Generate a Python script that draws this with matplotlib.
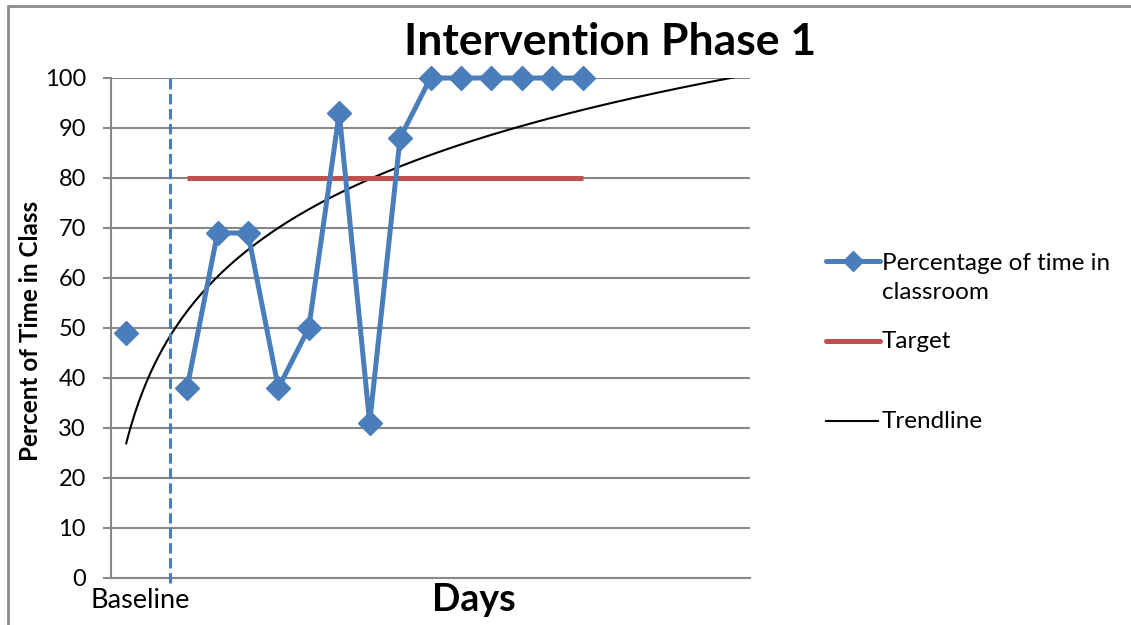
import numpy as np
import matplotlib.pyplot as plt
from matplotlib.lines import Line2D
from matplotlib.patches import Rectangle
import matplotlib.transforms as mtransforms

plt.rcParams['font.family'] = ['Lato', 'DejaVu Sans']

# day 1 = baseline, day 2 empty, days 3-16 intervention
days = list(range(1, 17))
pct_time = [49, np.nan, 38, 69, 69, 38, 50, 93, 31, 88, 100, 100, 100, 100, 100, 100]
target_days = list(range(3, 17))
target = [80] * len(target_days)
n_categories = 21
y_ticks = [0, 10, 20, 30, 40, 50, 60, 70, 80, 90, 100]

BLUE = '#4A7EBB'
RED = '#C0504D'
GRID = '#878787'

W, H = 1131, 625


def fx(px):
    return px / W


def fy(py):
    return 1 - py / H


def main():
    fig = plt.figure(figsize=(W / 100, H / 100), dpi=100)
    ax = fig.add_axes([fx(111), fy(578), fx(750) - fx(111), fy(78) - fy(578)])

    # excel-style logarithmic trendline, forecast to the last category
    d = np.array(days, dtype=float)
    p = np.array(pct_time, dtype=float)
    ok = ~np.isnan(p)
    a, b = np.polyfit(np.log(d[ok]), p[ok], 1)
    tx = np.linspace(1, n_categories, 300)
    ax.plot(tx, a * np.log(tx) + b, color='black', lw=1.5, zorder=3)

    ax.plot(target_days, target, color=RED, lw=3.6, solid_capstyle='butt', zorder=4)
    ax.plot(days, pct_time, color=BLUE, lw=3.6, marker='D', markersize=12,
            clip_on=False, zorder=5)

    # phase change line
    ax.axvline(2.44, ymin=-0.01, ymax=1.006, color=BLUE, lw=2.2, ls=(0, (3.4, 1.5)),
               clip_on=False, zorder=6)

    ax.set_xlim(0.5, n_categories + 0.5)
    ax.set_ylim(0, 100)
    ax.set_yticks(y_ticks)
    ax.set_xticks([])
    ax.grid(axis='y', color=GRID, lw=1.5)
    ax.set_axisbelow(True)
    for s in ['top', 'right']:
        ax.spines[s].set_visible(False)
    for s in ['left', 'bottom']:
        ax.spines[s].set_color(GRID)
        ax.spines[s].set_linewidth(1.5)
    ax.tick_params(axis='y', length=6, width=1.5, color=GRID, pad=12,
                   labelsize=17)

    trans = mtransforms.blended_transform_factory(ax.transData, ax.transAxes)
    ax.text(1.45, -0.02, "Baseline", transform=trans, ha='center', va='top',
            fontsize=19.5)
    ax.text(12.43, -0.01, "Days", transform=trans, ha='center', va='top',
            fontsize=27, fontweight='bold')

    fig.text(fx(610), fy(42), "Intervention Phase 1", ha='center', va='center',
             fontsize=32, fontweight='bold')
    fig.text(fx(31), fy(331), "Percent of Time in Class", rotation=90,
             ha='center', va='center', fontsize=17.5, fontweight='bold')

    # legend drawn by hand
    fig.add_artist(Line2D([fx(826), fx(880)], [fy(261), fy(261)], color=BLUE,
                          lw=3.6, solid_capstyle='round'))
    fig.add_artist(Line2D([fx(853)], [fy(261)], color=BLUE, marker='D',
                          markersize=10))
    fig.add_artist(Line2D([fx(826), fx(880)], [fy(341), fy(341)], color=RED,
                          lw=3.6, solid_capstyle='round'))
    fig.add_artist(Line2D([fx(826), fx(878)], [fy(421), fy(421)],
                          color='black', lw=1.5))
    fig.text(fx(882), fy(278), "Percentage of time in\nclassroom", ha='left',
             va='center', fontsize=17.5, linespacing=1.5)
    fig.text(fx(882), fy(341), "Target", ha='left', va='center', fontsize=17.5)
    fig.text(fx(882), fy(421), "Trendline", ha='left', va='center', fontsize=17.5)

    # chart frame
    fig.add_artist(Rectangle((fx(8), fy(700)), 1.2, fy(6) - fy(700),
                             transform=fig.transFigure, fill=False,
                             edgecolor='#8C8C8C', lw=2))

    fig.savefig("out.png", dpi=100)


if __name__ == "__main__":
    main()
